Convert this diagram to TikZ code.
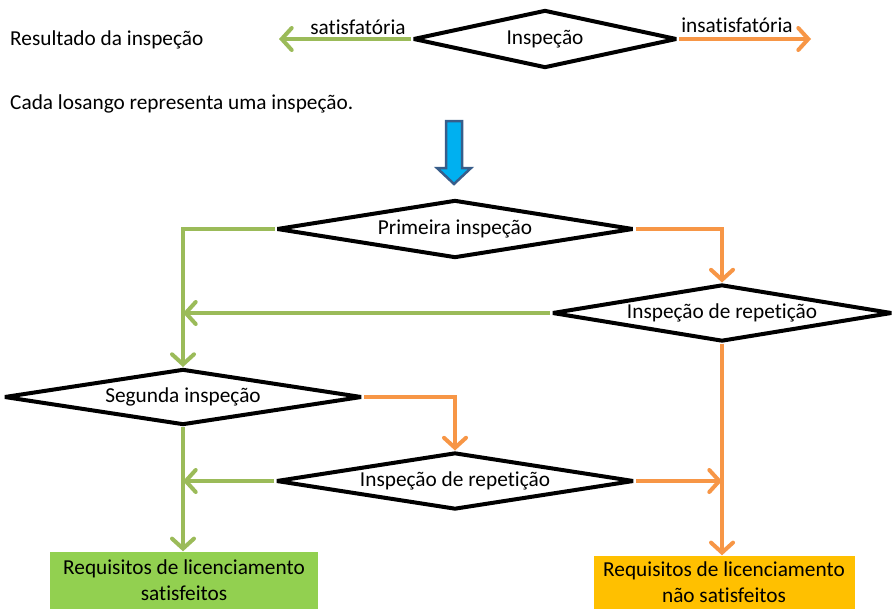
\documentclass[tikz,border=0pt]{standalone}
\usepackage{fontspec}
\setmainfont[Ligatures=NoCommon]{Carlito}
\usetikzlibrary{shapes.geometric,arrows.meta,calc}
\definecolor{gline}{HTML}{9BBB59}
\definecolor{oline}{HTML}{F79646}
\definecolor{gbox}{HTML}{92D050}
\definecolor{obox}{HTML}{FFC000}
\definecolor{bfill}{HTML}{00B0F0}
\definecolor{bdraw}{HTML}{385D8A}
\tikzset{
  dia/.style={draw=black, line width=4pt, line join=bevel, shape=diamond, shape aspect=6.5, inner sep=0pt, font=\fontsize{21.3}{24}\selectfont},
  lbl/.style={inner sep=0pt, font=\fontsize{21.3}{24}\selectfont},
  gconn/.style={draw=gline, line width=4pt},
  oconn/.style={draw=oline, line width=4pt},
  tip/.style={-{Straight Barb[length=10pt,width=22pt,line cap=round]}},
  result/.style={inner sep=0pt, align=center, font=\fontsize{21.3}{26}\selectfont}
}
\begin{document}
\begin{tikzpicture}[x=1pt,y=-1pt]
\useasboundingbox (0,0) rectangle (893,608);
% legend
\node[lbl, anchor=west] (res) at (10,40) {Resultado da inspeção};
\node[dia, minimum width=264pt, minimum height=58pt] (L) at (545,39) {Inspeção};
\coordinate (Lg) at (279,39);
\coordinate (Lo) at (811,39);
\draw[gconn, tip] (L.west) -- (Lg);
\draw[oconn, tip] (L.east) -- (Lo);
\node[lbl, anchor=south] (sat) at (358,35) {satisfatória};
\node[lbl, anchor=south] (ins) at (737,33) {insatisfatória};
\node[lbl, anchor=west] (cada) at (10,104) {Cada losango representa uma inspeção.};
% blue arrow
\draw[fill=bfill, draw=bdraw, line width=2.5pt, line join=miter]
  (446,121) -- (462,121) -- (462,168) -- (471,168) -- (454,184) -- (437,168) -- (446,168) -- cycle;
% diamonds
\node[dia, minimum width=357pt, minimum height=58pt] (P1) at (455,229) {Primeira inspeção};
\node[dia, minimum width=340pt, minimum height=57pt] (R1) at (722,313) {Inspeção de repetição};
\node[dia, minimum width=358pt, minimum height=56pt] (S2) at (183,397) {Segunda inspeção};
\node[dia, minimum width=358pt, minimum height=57pt] (R2) at (455,481) {Inspeção de repetição};
% result boxes
\node[result, fill=gbox, minimum width=268pt, minimum height=57pt] (G) at (184,580) {Requisitos de licenciamento\\satisfeitos};
\node[result, fill=obox, minimum width=261pt, minimum height=53pt] (O) at (724,582) {Requisitos de licenciamento\\não satisfeitos};
% connectors
\draw[gconn, tip] (P1.west) -| (S2.north);
\draw[oconn, tip] (P1.east) -| (R1.north);
\draw[gconn, tip] (R1.west) -- (S2.north |- R1.west);
\draw[oconn, tip] (R1.south) -- (R1.south |- O.north);
\draw[oconn, tip] (S2.east) -| (R2.north);
\draw[gconn, tip] (R2.west) -- (S2.south |- R2.west);
\draw[oconn, tip] (R2.east) -- (R1.south |- R2.east);
\draw[gconn, tip] (S2.south) -- (S2.south |- G.north);
\end{tikzpicture}
\end{document}
